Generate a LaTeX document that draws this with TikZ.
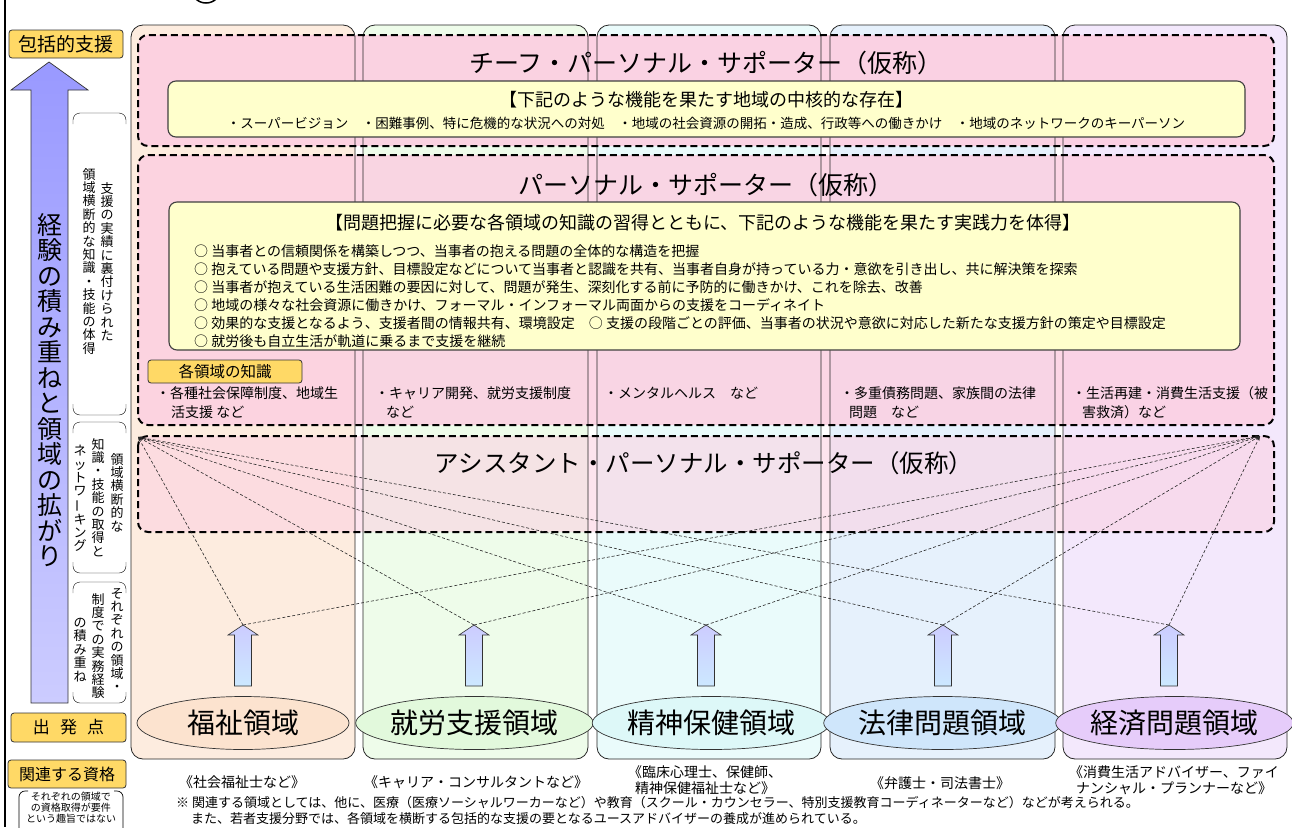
\documentclass[tikz,border=0pt]{standalone}
\usepackage{fontspec}
\setmainfont{Noto Sans CJK JP}
\usetikzlibrary{shapes.geometric,arrows.meta}
\definecolor{gold}{HTML}{FFD966}
\definecolor{pinkbox}{HTML}{FCCFE1}
\definecolor{ylw}{HTML}{FFFFCC}
\definecolor{cA}{HTML}{FDECDF}
\definecolor{cB}{HTML}{EEFCEA}
\definecolor{cC}{HTML}{EAFBFB}
\definecolor{cD}{HTML}{E6F1FC}
\definecolor{cE}{HTML}{F3E8FC}
\definecolor{eA}{HTML}{FCE3CF}
\definecolor{eB}{HTML}{E2F9DC}
\definecolor{eC}{HTML}{DDF8F8}
\definecolor{eD}{HTML}{CFE6FB}
\definecolor{eE}{HTML}{E6CCFA}
\definecolor{arrtop}{HTML}{9999FF}
\definecolor{arrbot}{HTML}{CCCCFF}
\definecolor{sarrtop}{HTML}{CCCCFF}
\definecolor{sarrbot}{HTML}{CCE8FF}
\newcommand\mybrace[2]{%
  \draw[rounded corners=7pt] (73,#1+11) -- (73,#1) -- (126,#1) -- (126,#1+11);
  \draw[rounded corners=7pt] (73,#2-11) -- (73,#2) -- (126,#2) -- (126,#2-11);}
\newcommand\smallarrow[1]{%
  \draw[draw=black!80, line width=0.6pt, top color=sarrtop, bottom color=sarrbot]
    (#1,625) -- (#1+15,635) -- (#1+8.5,635) -- (#1+8.5,686) -- (#1-8.5,686)
    -- (#1-8.5,635) -- (#1-15,635) -- cycle;}
\tikzset{
  colbox/.style={draw=black!85, line width=0.8pt, rounded corners=12pt},
  dbox/.style={draw=black, line width=2pt, dash pattern=on 7pt off 4pt, rounded corners=10pt},
  ybox/.style={draw=black!75, line width=1.1pt, fill=ylw, rounded corners=8pt},
  goldbox/.style={draw=black!80, line width=0.8pt, fill=gold, rounded corners=3pt, inner sep=0pt},
  conn/.style={draw=black!85, line width=0.6pt, dash pattern=on 3pt off 2pt, -{Stealth[length=5pt,width=3pt]}},
  field/.style={ellipse, draw=black!80, line width=0.7pt, minimum width=212pt, minimum height=53pt, inner sep=0pt, font=\fontsize{28}{30}\selectfont},
  title/.style={inner sep=0pt, font=\fontsize{25}{28}\selectfont},
  hdr/.style={inner sep=0pt, font=\fontsize{18}{20}\selectfont},
  body/.style={inner sep=0pt, anchor=west, font=\fontsize{14}{15}\selectfont},
  note/.style={inner sep=0pt, anchor=west, font=\fontsize{13}{15}\selectfont},
  know/.style={inner sep=0pt, anchor=west, font=\fontsize{14}{15}\selectfont},
  qual/.style={inner sep=0pt, align=center, font=\fontsize{14}{16}\selectfont},
  vtxt/.style={inner sep=0pt, anchor=north, align=center, font=\fontsize{13}{13.4}\selectfont},
}
\begin{document}
\begin{tikzpicture}[x=1pt,y=-1pt]
\useasboundingbox (0,0) rectangle (1292,827);
\fill[white] (0,0) rectangle (1292,827);
\begin{scope}
\clip (0,0) rectangle (1292,827);
\draw[line width=1.5pt] (206,-12) circle[radius=15];
\end{scope}
\draw[line width=1.5pt] (5,0) -- (5,827);

% columns
\fill[cA, rounded corners=12pt] (131,25) rectangle (355,759);
\fill[cB, rounded corners=12pt] (363,25) rectangle (588,759);
\fill[cC, rounded corners=12pt] (597,25) rectangle (821,759);
\fill[cD, rounded corners=12pt] (830,25) rectangle (1055,759);
\fill[cE, rounded corners=12pt] (1063,25) rectangle (1287,759);

% pink areas
\fill[pinkbox, opacity=0.92, rounded corners=10pt] (138,35) rectangle (1274,146);
\fill[pinkbox, opacity=0.85, rounded corners=10pt] (138,155) rectangle (1274,425);
\fill[pinkbox, opacity=0.55, rounded corners=10pt] (138,436) rectangle (1274,532);

% column outlines
\draw[colbox] (131,25) rectangle (355,759);
\draw[colbox] (363,25) rectangle (588,759);
\draw[colbox] (597,25) rectangle (821,759);
\draw[colbox] (830,25) rectangle (1055,759);
\draw[colbox] (1063,25) rectangle (1287,759);

% dashed boxes
\draw[dbox] (138,35) rectangle (1274,146);
\draw[dbox] (138,155) rectangle (1274,425);
\draw[dbox] (138,436) rectangle (1274,532);

% yellow boxes
\draw[ybox] (168,81) rectangle (1245,137);
\draw[ybox] (169,202) rectangle (1240,350);

% titles
\node[title] (chief) at (706,63) {チーフ・パーソナル・サポーター（仮称）};
\node[hdr] (chiefh) at (706,100) {【下記のような機能を果たす地域の中核的な存在】};
\node[inner sep=0pt, font=\fontsize{13.5}{15}\selectfont] (chiefl) at (706,123) {・スーパービジョン　・困難事例、特に危機的な状況への対処　・地域の社会資源の開拓・造成、行政等への働きかけ　・地域のネットワークのキーパーソン};

\node[title] (ps) at (706,185) {パーソナル・サポーター（仮称）};
\node[hdr] (psh) at (703,223) {【問題把握に必要な各領域の知識の習得とともに、下記のような機能を果たす実践力を体得】};
\node[body] (l1) at (194,251) {○ 当事者との信頼関係を構築しつつ、当事者の抱える問題の全体的な構造を把握};
\node[body] (l2) at (194,269) {○ 抱えている問題や支援方針、目標設定などについて当事者と認識を共有、当事者自身が持っている力・意欲を引き出し、共に解決策を探索};
\node[body] (l3) at (194,287) {○ 当事者が抱えている生活困難の要因に対して、問題が発生、深刻化する前に予防的に働きかけ、これを除去、改善};
\node[body] (l4) at (194,305) {○ 地域の様々な社会資源に働きかけ、フォーマル・インフォーマル両面からの支援をコーディネイト};
\node[body] (l5) at (194,323) {○ 効果的な支援となるよう、支援者間の情報共有、環境設定　○ 支援の段階ごとの評価、当事者の状況や意欲に対応した新たな支援方針の策定や目標設定};
\node[body] (l6) at (194,341) {○ 就労後も自立生活が軌道に乗るまで支援を継続};

\node[goldbox, minimum width=154pt, minimum height=23pt, font=\fontsize{15.5}{17}\selectfont] (knowl) at (225,371.5) {各領域の知識};
\node[know] (k1a) at (156,393) {・各種社会保障制度、地域生};
\node[know] (k1b) at (171,412) {活支援 など};
\node[know] (k2a) at (375,393) {・キャリア開発、就労支援制度};
\node[know] (k2b) at (386,412) {など};
\node[know] (k3a) at (604,393) {・メンタルヘルス　など};
\node[know] (k4a) at (840,393) {・多重債務問題、家族間の法律};
\node[know] (k4b) at (849,412) {問題　など};
\node[know] (k5a) at (1072,393) {・生活再建・消費生活支援（被};
\node[know] (k5b) at (1082,412) {害救済）など};

\node[title, font=\fontsize{24.5}{28}\selectfont] (aps) at (704,463) {アシスタント・パーソナル・サポーター（仮称）};

% connectors
\coordinate (cl) at (138,437);
\coordinate (cr) at (1260,436);
\coordinate (t1) at (243,625);
\coordinate (t2) at (474,625);
\coordinate (t3) at (706,625);
\coordinate (t4) at (943,625);
\coordinate (t5) at (1169,625);
\foreach \t in {t1,t2,t3,t4,t5}{
  \draw[conn] (\t) -- (cl);
  \draw[conn] (\t) -- (cr);
}
\smallarrow{243}
\smallarrow{474}
\smallarrow{706}
\smallarrow{943}
\smallarrow{1169}

% fields
\node[field, fill=eA] (f1) at (243,723) {福祉領域};
\node[field, fill=eB] (f2) at (474.5,723) {就労支援領域};
\node[field, fill=eC] (f3) at (711,723) {精神保健領域};
\node[field, fill=eD] (f4) at (942.5,723) {法律問題領域};
\node[field, fill=eE] (f5) at (1174.5,723) {経済問題領域};

% qualifications
\node[qual] (q1) at (242,782) {《社会福祉士など》};
\node[qual] (q2) at (476,782) {《キャリア・コンサルタントなど》};
\node[qual] (q3) at (705,780) {《臨床心理士、保健師、\\精神保健福祉士など》};
\node[qual] (q4) at (940,783) {《弁護士・司法書士》};
\node[qual] (q5) at (1174,780) {《消費生活アドバイザー、ファイ\\ナンシャル・プランナーなど》};
\node[note] (n1) at (176,803) {※ 関連する領域としては、他に、医療（医療ソーシャルワーカーなど）や教育（スクール・カウンセラー、特別支援教育コーディネーターなど）などが考えられる。};
\node[note] (n2) at (191,819) {また、若者支援分野では、各領域を横断する包括的な支援の要となるユースアドバイザーの養成が進められている。};

% left column
\node[goldbox, minimum width=114pt, minimum height=28pt, font=\fontsize{19}{21}\selectfont] (incl) at (66,44) {包括的支援};
\draw[draw=black!80, line width=0.7pt, top color=arrtop, bottom color=arrbot]
  (49,62) -- (88,90) -- (68,90) -- (68,703) -- (31,703) -- (31,90) -- (11,90) -- cycle;
\node[inner sep=0pt, anchor=north, align=center, font=\fontsize{25}{25.5}\selectfont] (bigt) at (49.5,213)
  {経\\験\\の\\積\\み\\重\\ね\\と\\領\\域\\の\\拡\\が\\り};

\mybrace{113}{415}
\node[vtxt] (va1) at (107,182) {支\\援\\の\\実\\績\\に\\裏\\付\\け\\ら\\れ\\た};
\node[vtxt] (va2) at (89,168) {領\\域\\横\\断\\的\\な\\知\\識\\・\\技\\能\\の\\体\\得};

\mybrace{422}{573}
\node[vtxt] (vb1) at (117,453) {領\\域\\横\\断\\的\\な};
\node[vtxt] (vb2) at (98,438) {知\\識\\・\\技\\能\\の\\取\\得\\と};
\node[vtxt] (vb3) at (80,445) {ネ\\ッ\\ト\\ワ\\\rotatebox[origin=c]{90}{ー}\\キ\\ン\\グ};

\mybrace{582}{703}
\node[vtxt] (vc1) at (117,588) {そ\\れ\\ぞ\\れ\\の\\領\\域\\・};
\node[vtxt] (vc2) at (98,593) {制\\度\\で\\の\\実\\務\\経\\験};
\node[vtxt] (vc3) at (80,618) {の\\積\\み\\重\\ね};

\node[goldbox, minimum width=115pt, minimum height=29pt, font=\fontsize{17}{19}\selectfont] (start) at (68.5,727.5) {出\hspace{0.6em}発\hspace{0.6em}点};
\node[goldbox, minimum width=118pt, minimum height=28pt, font=\fontsize{16}{18}\selectfont] (rel) at (67,774) {関連する資格};
\draw[line width=0.7pt, rounded corners=6pt] (28,791) -- (19,791) -- (19,840) -- (28,840);
\draw[line width=0.7pt, rounded corners=6pt] (114,791) -- (123,791) -- (123,840) -- (114,840);
\node[inner sep=0pt, align=center, font=\fontsize{10}{11}\selectfont] (reln) at (71,808) {それぞれの領域で\\の資格取得が要件\\という趣旨ではない};
\end{tikzpicture}
\end{document}
